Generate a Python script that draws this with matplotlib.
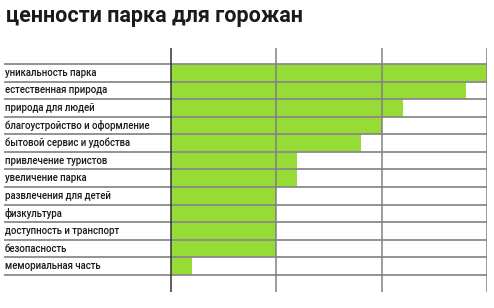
import matplotlib
matplotlib.use("Agg")
import matplotlib.pyplot as plt
from matplotlib.transforms import blended_transform_factory

categories = [
    "уникальность парка",
    "естественная природа",
    "природа для людей",
    "благоустройство и оформление",
    "бытовой сервис и удобства",
    "привлечение туристов",
    "увеличение парка",
    "развлечения для детей",
    "физкультура",
    "доступность и транспорт",
    "безопасность",
    "мемориальная часть",
]
values = [15, 14, 11, 10, 9, 6, 6, 5, 5, 5, 5, 1]
grid_ticks = [0, 5, 10, 15]
title = "ценности парка для горожан"

plt.rcParams['font.family'] = ['Roboto', 'DejaVu Sans']

fig = plt.figure(figsize=(4.94, 3.08), dpi=100)
ax = fig.add_axes([4/494, 1-292/308, 483/494, 244/308])

n = len(categories)
ypos = list(range(n))
ax.barh(ypos, values, height=1.0, left=0, color="#97DB37", edgecolor="none", zorder=1)

ax.set_xlim(-7.93, 15)
ax.set_ylim(12.47, -1.41)

# horizontal row separators
for i in range(n + 1):
    ax.axhline(i - 0.5, color="#8a8a8a", lw=1.3, zorder=3)

# vertical grid lines
for t in grid_ticks:
    ax.axvline(t, color="#333333" if t == 0 else "#808080", lw=1.1, zorder=4)

trans = blended_transform_factory(fig.transFigure, ax.transData)
for i, c in enumerate(categories):
    ax.text(5/494, i, c, transform=trans, fontsize=6.9, fontweight="medium",
            va="center", ha="left", color="#1a1a1a")

for s in ax.spines.values():
    s.set_visible(False)
ax.set_xticks([])
ax.set_yticks([])

fig.text(6/494, 1-16/308, title, fontsize=15.5, fontweight="bold",
         va="center", ha="left", color="#1a1a1a")

fig.savefig("out.png", dpi=100)
